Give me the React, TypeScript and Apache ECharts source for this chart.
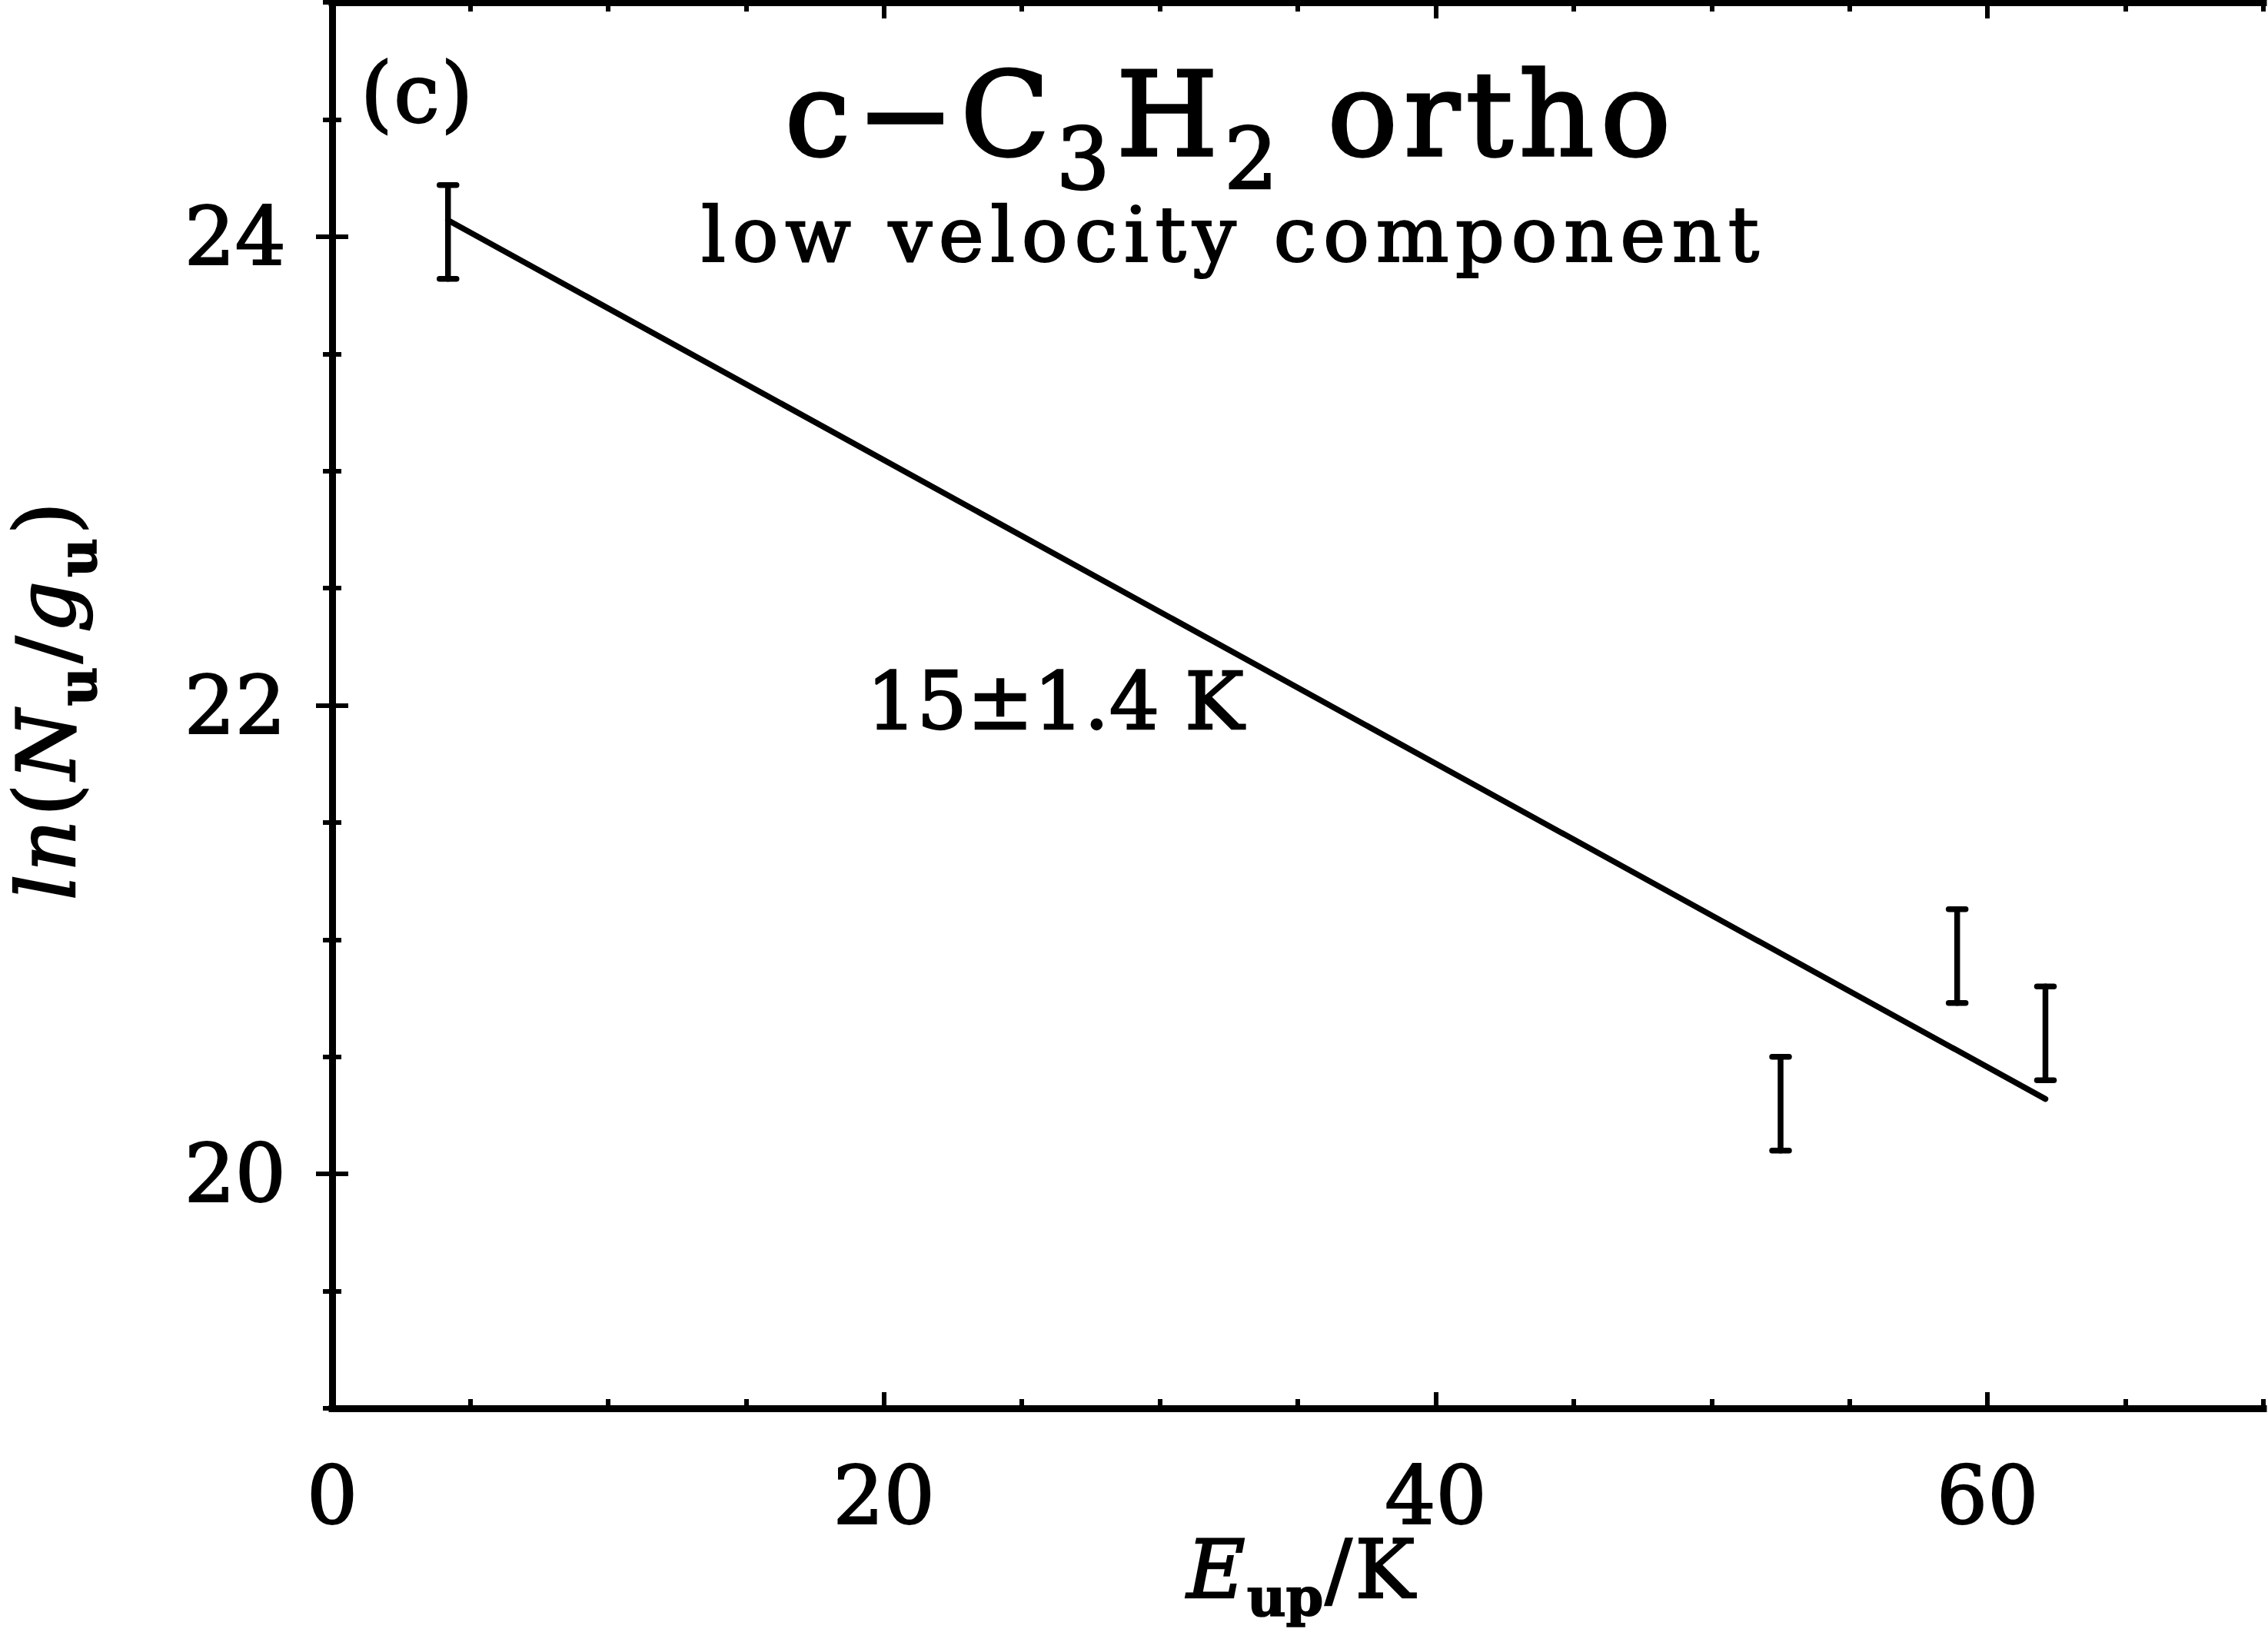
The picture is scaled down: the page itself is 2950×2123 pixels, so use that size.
import React, { useEffect, useRef } from "react";
import * as echarts from "echarts";

// Rotation diagram: upper-level energy vs ln(N_u/g_u), with a linear fit.
const eupK = [4.2, 52.5, 58.9, 62.1];
const lnNg = [24.02, 20.3, 20.93, 20.6];
const lnNgErr = [0.2, 0.2, 0.2, 0.2];
// Fitted straight line, drawn between its two end points.
const fitX = [4.2, 62.1];
const fitY = [24.07, 20.32];

const xMinorStep = 5;
const xMajorTicks = [0, 20, 40, 60];
const yMinorStep = 0.5;
const yMajorTicks = [20, 22, 24];

const panelTag = "(c)";
const fitLabel = "15±1.4 K";
const subtitle = "low velocity component";

const FONT_FAMILY = '"DejaVu Serif", serif';
const INK = "#000";
// Offset from the alphabetic baseline to the em-box centre, in ems.
const CENTRAL_SHIFT = 0.35;
// Extra stroke that gives the glyphs a heavier, pen-drawn weight.
const TEXT_STROKE = 2.2;

type Run = {
  text: string;
  size: number;
  italic?: boolean;
  bold?: boolean;
  dy?: number;
  tracking?: number;
};

let measurer: CanvasRenderingContext2D | null = null;
function fontOf(r: Run) {
  return `${r.italic ? "italic " : ""}${r.bold ? "bold " : ""}${r.size}px ${FONT_FAMILY}`;
}
function textWidth(r: Run, text: string) {
  if (!measurer) measurer = document.createElement("canvas").getContext("2d");
  measurer!.font = fontOf(r);
  return measurer!.measureText(text).width;
}

// Splits runs into placed pieces (per character when a run is letter-spaced).
function pieces(runs: Run[]) {
  const out: { run: Run; text: string; advance: number }[] = [];
  runs.forEach((r) => {
    if (r.tracking) {
      const chars = Array.from(r.text);
      chars.forEach((ch, i) => {
        const w = textWidth(r, ch);
        out.push({ run: r, text: ch, advance: w + (i < chars.length - 1 ? r.tracking! : 0) });
      });
    } else {
      out.push({ run: r, text: r.text, advance: textWidth(r, r.text) });
    }
  });
  return out;
}

// Lays out a line of mixed-style text pieces along one baseline.
function layoutRuns(runs: Run[], x: number, baseline: number, align: "left" | "center", gap = 0) {
  const ps = pieces(runs);
  const total = ps.reduce((a, p) => a + p.advance, 0) + gap * (runs.length - 1);
  let cx = align === "center" ? x - total / 2 : x;
  let lastRun: Run | null = null;
  return ps.map((p) => {
    if (lastRun && lastRun !== p.run) cx += gap;
    lastRun = p.run;
    const r = p.run;
    const el = {
      type: "text",
      x: cx,
      y: baseline + (r.dy ?? 0) - CENTRAL_SHIFT * r.size,
      silent: true,
      style: {
        text: p.text,
        fontFamily: FONT_FAMILY,
        fontSize: r.size,
        fontStyle: r.italic ? "italic" : "normal",
        fontWeight: r.bold ? "bold" : "normal",
        fill: INK,
        stroke: INK,
        lineWidth: TEXT_STROKE * (r.size / 100),
        align: "left",
        verticalAlign: "middle",
        textAlign: "left",
        textVerticalAlign: "middle",
      },
    };
    cx += p.advance;
    return el;
  });
}

const AXIS_W = 9;
const TICK_W = 6;
const MINOR_LEN = 12;
const MAJOR_LEN = 21;
const LABEL_SIZE = 104;
const MARK_W = 7.5;

function minorAxis(position: string, min: number, max: number, step: number) {
  return {
    type: "value",
    position,
    min,
    max,
    interval: step,
    axisLine: { show: true, lineStyle: { color: INK, width: AXIS_W, cap: "square" } },
    axisTick: { show: true, inside: true, length: MINOR_LEN, lineStyle: { color: INK, width: TICK_W } },
    axisLabel: { show: false },
    splitLine: { show: false },
  };
}
function majorAxis(position: string, min: number, max: number, ticks: number[], labels: boolean, margin: number) {
  return {
    type: "value",
    position,
    min,
    max,
    axisLine: { show: false },
    axisTick: {
      show: true,
      inside: true,
      length: MAJOR_LEN,
      customValues: ticks,
      lineStyle: { color: INK, width: TICK_W },
    },
    axisLabel: {
      show: labels,
      customValues: ticks,
      margin,
      color: INK,
      fontFamily: FONT_FAMILY,
      fontSize: LABEL_SIZE,
      textBorderColor: INK,
      textBorderWidth: TEXT_STROKE,
    },
    splitLine: { show: false },
  };
}

export default function App() {
  const ref = useRef<HTMLDivElement>(null);

  useEffect(() => {
    if (!ref.current) return;
    const chart = echarts.init(ref.current, null, { renderer: "svg" });

    const errorData = eupK.map((x, i) => [x, lnNg[i] - lnNgErr[i], lnNg[i] + lnNgErr[i]]);
    const fitData = fitX.map((x, i) => [x, fitY[i]]);

    const graphics: any[] = [
      ...layoutRuns([{ text: panelTag, size: 106, tracking: 2 }], 469, 159, "left"),
      ...layoutRuns(
        [
          { text: "c−C", size: 152, tracking: 8 },
          { text: "3", size: 110, dy: 42 },
          { text: "H", size: 152 },
          { text: "2", size: 110, dy: 42 },
          { text: " ortho", size: 152, tracking: 8 },
        ],
        1597,
        203,
        "center",
        8
      ),
      ...layoutRuns([{ text: subtitle, size: 100, tracking: 8.5 }], 1600, 340, "center"),
      ...layoutRuns([{ text: fitLabel, size: 103 }], 1127, 948, "left"),
      ...layoutRuns(
        [
          { text: "E", size: 104, italic: true },
          { text: "up", size: 70, bold: true, dy: 24 },
          { text: "/K", size: 104, tracking: 4 },
        ],
        1692,
        2078,
        "center",
        2
      ),
      {
        type: "group",
        x: 97,
        y: 912,
        rotation: Math.PI / 2,
        children: layoutRuns(
          [
            { text: "ln", size: 104, italic: true, tracking: 4 },
            { text: "(", size: 108 },
            { text: "N", size: 104, italic: true },
            { text: "u", size: 70, bold: true, dy: 28 },
            { text: "/", size: 104 },
            { text: "g", size: 104, italic: true },
            { text: "u", size: 70, bold: true, dy: 28 },
            { text: ")", size: 108 },
          ],
          0,
          0,
          "center",
          5
        ),
      },
    ];

    chart.setOption({
      animation: false,
      backgroundColor: "#fff",
      grid: { left: 432, right: 6, top: 3, bottom: 291, containLabel: false },
      xAxis: [
        minorAxis("bottom", 0, 70, xMinorStep),
        majorAxis("bottom", 0, 70, xMajorTicks, true, 62),
        minorAxis("top", 0, 70, xMinorStep),
        majorAxis("top", 0, 70, xMajorTicks, false, 0),
      ],
      yAxis: [
        minorAxis("left", 19, 25, yMinorStep),
        majorAxis("left", 19, 25, yMajorTicks, true, 60),
        minorAxis("right", 19, 25, yMinorStep),
        majorAxis("right", 19, 25, yMajorTicks, false, 0),
      ],
      series: [
        {
          type: "line",
          xAxisIndex: 0,
          yAxisIndex: 0,
          data: fitData,
          showSymbol: false,
          symbol: "none",
          lineStyle: { color: INK, width: MARK_W, cap: "round" },
          silent: true,
        },
        {
          type: "custom",
          xAxisIndex: 0,
          yAxisIndex: 0,
          data: errorData,
          encode: { x: 0, y: [1, 2] },
          silent: true,
          renderItem: (_params: any, api: any) => {
            const x = api.value(0);
            const lo = api.coord([x, api.value(1)]);
            const hi = api.coord([x, api.value(2)]);
            const cap = 11;
            const stroke = { stroke: INK, lineWidth: MARK_W, lineCap: "round" };
            return {
              type: "group",
              children: [
                { type: "line", shape: { x1: hi[0], y1: hi[1], x2: lo[0], y2: lo[1] }, style: stroke },
                { type: "line", shape: { x1: hi[0] - cap, y1: hi[1], x2: hi[0] + cap, y2: hi[1] }, style: stroke },
                { type: "line", shape: { x1: lo[0] - cap, y1: lo[1], x2: lo[0] + cap, y2: lo[1] }, style: stroke },
              ],
            };
          },
        },
      ],
      graphic: { elements: graphics },
    });

    return () => chart.dispose();
  }, []);

  return (
    <div
      ref={ref}
      style={{ position: "absolute", left: 0, top: 0, width: 2950, height: 2123, background: "#fff" }}
    />
  );
}
